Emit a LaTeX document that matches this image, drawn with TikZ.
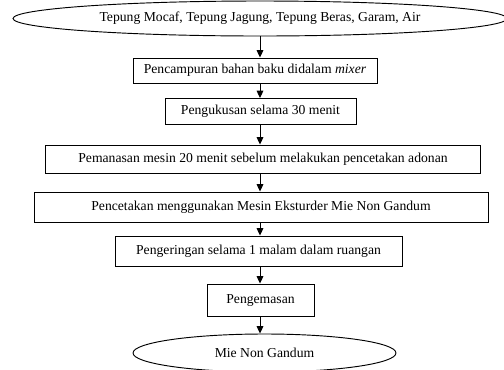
\documentclass[tikz,border=0pt]{standalone}
\usepackage{fontspec}
\setmainfont{Liberation Serif}
\usetikzlibrary{shapes.geometric,arrows.meta}
\begin{document}
\begin{tikzpicture}[x=0.75pt,y=-0.75pt,font=\fontsize{10.25}{12}\selectfont,
  stepbox/.style={draw,line width=0.7pt,inner sep=0pt},
  endcap/.style={draw,ellipse,line width=0.7pt,inner sep=0pt},
  flow/.style={line width=0.7pt,-{Triangle[length=5.5pt,width=5pt]}}]
  \useasboundingbox (0,0) rectangle (504,369);
  \node[endcap,minimum width=370.5pt,minimum height=26.25pt] (bahan) at (260,18.5) {Tepung Mocaf, Tepung Jagung, Tepung Beras, Garam, Air};
  \node[stepbox,minimum width=183pt,minimum height=18.75pt] (campur) at (255,70.5) {Pencampuran bahan baku didalam \textit{mixer}};
  \node[stepbox,minimum width=143.25pt,minimum height=19.5pt] (kukus) at (260.5,111.5) {Pengukusan selama 30 menit};
  \node[stepbox,minimum width=326.25pt,minimum height=21pt] (panas) at (263,159) {Pemanasan mesin 20 menit sebelum melakukan pencetakan adonan};
  \node[stepbox,minimum width=340.5pt,minimum height=22.5pt] (cetak) at (261,207) {Pencetakan menggunakan Mesin Eksturder Mie Non Gandum};
  \node[stepbox,minimum width=215.25pt,minimum height=22.5pt] (kering) at (258.5,251) {Pengeringan selama 1 malam dalam ruangan};
  \node[stepbox,minimum width=80.25pt,minimum height=24pt] (kemas) at (260.5,300) {Pengemasan};
  \node[endcap,minimum width=197.25pt,minimum height=28.5pt] (mie) at (264.5,353) {Mie Non Gandum};
  \draw[flow] (bahan.south) -- (bahan.south |- campur.north);
  \draw[flow] (bahan.south |- campur.south) -- (bahan.south |- kukus.north);
  \draw[flow] (bahan.south |- kukus.south) -- (bahan.south |- panas.north);
  \draw[flow] (bahan.south |- panas.south) -- (bahan.south |- cetak.north);
  \draw[flow] (bahan.south |- cetak.south) -- (bahan.south |- kering.north);
  \draw[flow] (bahan.south |- kering.south) -- (bahan.south |- kemas.north);
  \draw[flow] (bahan.south |- kemas.south) -- (bahan.south |- mie.north);
\end{tikzpicture}
\end{document}
